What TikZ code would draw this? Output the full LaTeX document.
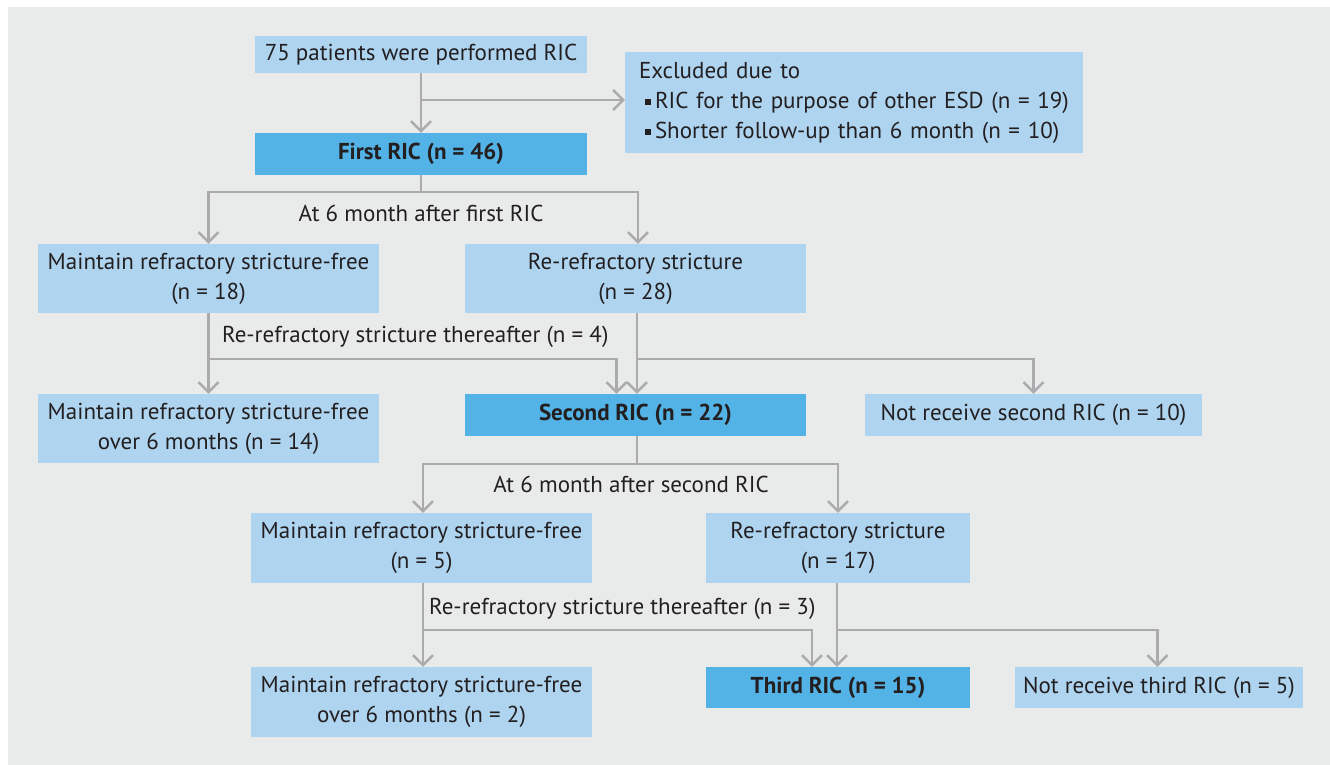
\documentclass[tikz,border=0pt]{standalone}
\usepackage{fontspec}
\setmainfont{PT Sans}
\usetikzlibrary{arrows.meta,calc}
\definecolor{bgGray}{HTML}{E9EBEB}
\definecolor{boxLight}{HTML}{AED4F0}
\definecolor{boxDark}{HTML}{53B3E6}
\definecolor{lineGray}{HTML}{ABABAD}
\definecolor{txtDark}{HTML}{231F20}
\newcommand{\sqbul}{\rule[3pt]{6pt}{6pt}\hspace{4pt}}

\begin{document}
\begin{tikzpicture}[x=1pt,y=-1pt,
  box/.style={fill=boxLight, inner sep=0pt, align=center, text=txtDark,
    font=\fontsize{23}{30}\selectfont},
  boxb/.style={box, fill=boxDark, font=\fontsize{23}{30}\selectfont\bfseries},
  flow/.style={draw=lineGray, line width=2.5pt, line join=miter,
    -{Straight Barb[length=10pt,width=20pt]}},
  lbl/.style={inner sep=0pt, text=txtDark, font=\fontsize{23}{30}\selectfont}]
\useasboundingbox (0,0) rectangle (1330,765);
\fill[bgGray] (8,7) rectangle (1330,765);

% boxes
\node[box, minimum width=332pt, minimum height=37pt] (pts) at (421,54.5) {75 patients were performed RIC};
\node[box, minimum width=458pt, minimum height=101pt, align=left, text width=430pt] (excl) at (854,102.5)
  {Excluded due to\\ \hspace{6pt}\sqbul RIC for the purpose of other ESD (n = 19)\\ \hspace{6pt}\sqbul Shorter follow-up than 6 month (n = 10)};
\node[boxb, minimum width=332pt, minimum height=42pt] (first) at (421,154) {First RIC (n = 46)};

\node[box, minimum width=341pt, minimum height=69pt] (mfree1) at (208.5,278.5) {Maintain refractory stricture-free\\(n = 18)};
\node[box, minimum width=341pt, minimum height=69pt] (rerf1) at (635.5,278.5) {Re-refractory stricture\\(n = 28)};

\node[box, minimum width=341pt, minimum height=69pt] (mover1) at (208.5,428.5) {Maintain refractory stricture-free\\over 6 months (n = 14)};
\node[boxb, minimum width=341pt, minimum height=42pt] (second) at (635.5,415) {Second RIC (n = 22)};
\node[box, minimum width=337pt, minimum height=42pt] (notsec) at (1033.5,415) {Not receive second RIC (n = 10)};

\node[box, minimum width=341pt, minimum height=70pt] (mfree2) at (421.5,548) {Maintain refractory stricture-free\\(n = 5)};
\node[box, minimum width=264pt, minimum height=70pt] (rerf2) at (838,548) {Re-refractory stricture\\(n = 17)};

\node[box, minimum width=341pt, minimum height=70pt] (mover2) at (421.5,702) {Maintain refractory stricture-free\\over 6 months (n = 2)};
\node[boxb, minimum width=264pt, minimum height=41pt] (third) at (838,687.5) {Third RIC (n = 15)};
\node[box, minimum width=288pt, minimum height=41pt] (notthird) at (1159,687.5) {Not receive third RIC (n = 5)};

% labels
\node[lbl] (l1) at (421,213) {At 6 month after first RIC};
\node[lbl, anchor=west] (l2) at (222,337) {Re-refractory stricture thereafter (n = 4)};
\node[lbl] (l3) at (631,484) {At 6 month after second RIC};
\node[lbl, anchor=west] (l4) at (429,609) {Re-refractory stricture thereafter (n = 3)};

% junctions
\coordinate (j0) at (421,100);
\coordinate (j1) at (421,192);
\coordinate (r1) at (0,359);
\coordinate (j2) at (637,464);
\coordinate (r2) at (0,630);

% connectors
\draw[flow] (pts.south) -- (first.north);
\draw[flow] (j0) -- (j0 -| excl.west);
\draw[flow] (first.south) -- (j1) -| (mfree1.north);
\draw[flow] (j1) -| ([xshift=2.5pt]rerf1.north);
\draw[flow] (mfree1.south) -- (mover1.north);
\draw[flow] (mfree1.south |- r1) -| ([xshift=-19pt]second.north);
\draw[flow] ([xshift=1.5pt]rerf1.south) -- ([xshift=1.5pt]second.north);
\draw[flow] ([xshift=1.5pt]rerf1.south |- r1) -| (notsec.north);
\draw[flow] ([xshift=1.5pt]second.south) -- (j2) -| ([xshift=1.5pt]mfree2.north);
\draw[flow] (j2) -| (rerf2.north);
\draw[flow] ([xshift=1.5pt]mfree2.south) -- ([xshift=1.5pt]mover2.north);
\draw[flow] ([xshift=1.5pt]mfree2.south |- r2) -| ([xshift=-26pt]third.north);
\draw[flow] ([xshift=-1pt]rerf2.south) -- ([xshift=-1pt]third.north);
\draw[flow] ([xshift=-1pt]rerf2.south |- r2) -| ([xshift=-1.5pt]notthird.north);
\end{tikzpicture}
\end{document}
